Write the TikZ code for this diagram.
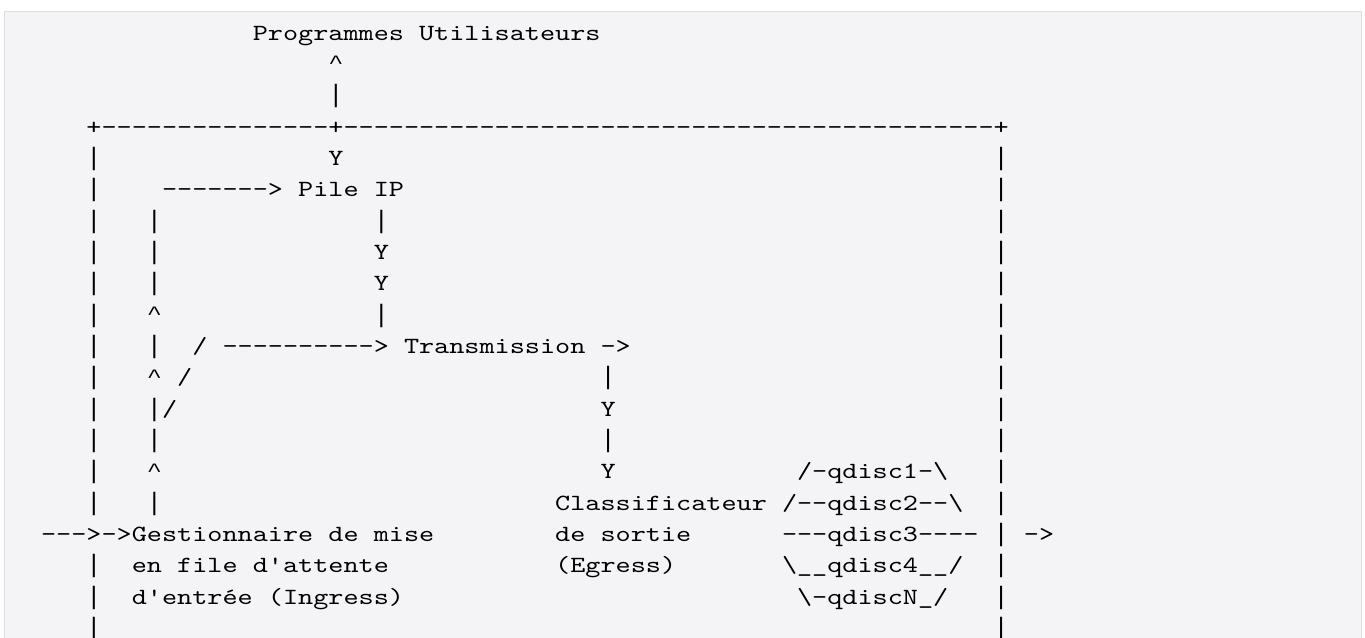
\documentclass[tikz,border=0pt]{standalone}
\usepackage{fontspec}
\usepackage{graphicx}
\setmonofont{lmmono10-regular.otf}[FakeStretch=1.2414]
\newfontfamily\symfont{Liberation Mono}
\definecolor{prebg}{HTML}{F4F4F6}
\definecolor{preborder}{HTML}{DDDDE2}
\tikzset{
  txt/.style={inner sep=0pt, outer sep=0pt, anchor=base west, text=black,
    font=\ttfamily\fontsize{17.4pt}{17.4pt}\selectfont},
  symtxt/.style={inner sep=0pt, outer sep=0pt, anchor=base west, text=black,
    font=\symfont\fontsize{18.9pt}{18.9pt}\selectfont},
  prebox/.style={fill=prebg, draw=preborder, line width=0.75pt}
}
\newcommand\asc[3]{\node[txt] (r#1c#2) at ({26+15.12*#2},{40+31.35*#1}) {#3};}
\newcommand\sym[3]{\node[symtxt] (r#1c#2) at ({26+15.12*#2},{40+31.35*#1}) {#3};}
\newcommand\caret{\raisebox{0.1em}{\scalebox{1}[0.75]{\textasciicircum}}}
\begin{document}
\begin{tikzpicture}[x=0.75pt,y=-0.75pt]
\useasboundingbox[fill=white] (0,0) rectangle (1365,637);
\path[prebox] (4.5,11.5) rectangle (1361.5,700);
% row 0-3
\asc{0}{15}{Programmes Utilisateurs}
\sym{1}{20}{\caret}
\sym{2}{20}{|}
\asc{3}{4}{+---------------+-------------------------------------------+}
% row 4
\sym{4}{4}{|}\asc{4}{20}{Y}\sym{4}{64}{|}
% row 5
\sym{5}{4}{|}\asc{5}{9}{-------> Pile IP}\sym{5}{64}{|}
% rows 6-9
\sym{6}{4}{|}\sym{6}{8}{|}\sym{6}{23}{|}\sym{6}{64}{|}
\sym{7}{4}{|}\sym{7}{8}{|}\asc{7}{23}{Y}\sym{7}{64}{|}
\sym{8}{4}{|}\sym{8}{8}{|}\asc{8}{23}{Y}\sym{8}{64}{|}
\sym{9}{4}{|}\sym{9}{8}{\caret}\sym{9}{23}{|}\sym{9}{64}{|}
% row 10
\sym{10}{4}{|}\sym{10}{8}{|}\asc{10}{11}{/ ----------> Transmission ->}\sym{10}{64}{|}
% rows 11-13
\sym{11}{4}{|}\sym{11}{8}{\caret}\asc{11}{10}{/}\sym{11}{38}{|}\sym{11}{64}{|}
\sym{12}{4}{|}\sym{12}{8}{|}\asc{12}{9}{/}\asc{12}{38}{Y}\sym{12}{64}{|}
\sym{13}{4}{|}\sym{13}{8}{|}\sym{13}{38}{|}\sym{13}{64}{|}
% row 14
\sym{14}{4}{|}\sym{14}{8}{\caret}\asc{14}{38}{Y}\asc{14}{51}{/-qdisc1-\textbackslash}\sym{14}{64}{|}
% row 15
\sym{15}{4}{|}\sym{15}{8}{|}\asc{15}{35}{Classificateur /--qdisc2--\textbackslash}\sym{15}{64}{|}
% row 16
\asc{16}{1}{--->->Gestionnaire de mise}\asc{16}{35}{de sortie}\asc{16}{50}{---qdisc3----}\sym{16}{64}{|}\asc{16}{66}{->}
% row 17
\sym{17}{4}{|}\asc{17}{7}{en file d'attente}\asc{17}{35}{(Egress)}\asc{17}{50}{\textbackslash\_\_qdisc4\_\_/}\sym{17}{64}{|}
% row 18
\sym{18}{4}{|}\asc{18}{7}{d'entrée (Ingress)}\asc{18}{51}{\textbackslash-qdiscN\_/}\sym{18}{64}{|}
% row 19
\sym{19}{4}{|}\sym{19}{64}{|}
\end{tikzpicture}
\end{document}
